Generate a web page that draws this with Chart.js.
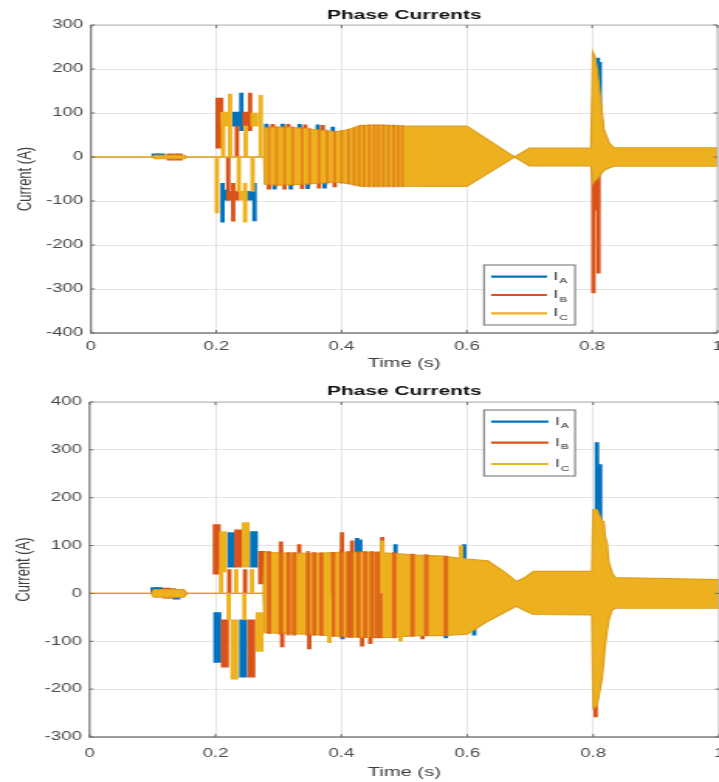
<!DOCTYPE html>
<html><head><meta charset="utf-8">
<script src="https://cdn.jsdelivr.net/npm/chart.js@4/dist/chart.umd.min.js"></script>
<style>
html,body{margin:0;padding:0;background:#fff;width:719px;height:782px;overflow:hidden}
.wrap{position:absolute;left:0;transform-origin:0 0;transform:scaleX(1.5496)}
canvas{display:block}
</style></head><body>
<div class="wrap" style="top:0;width:464px;height:380px"><canvas id="c1" width="464" height="380"></canvas></div>
<div class="wrap" style="top:380px;width:464px;height:402px"><canvas id="c2" width="464" height="402"></canvas></div>
<script>
// ---------- labels ----------
const chartTitle = 'Phase Currents';
const xTitle = 'Time (s)';
const yTitle = 'Current (A)';
const phaseNames = ['A', 'B', 'C'];
const xTicks = [0, 0.2, 0.4, 0.6, 0.8, 1];
const yTicksTop = [-400, -300, -200, -100, 0, 100, 200, 300];
const yTicksBottom = [-300, -200, -100, 0, 100, 200, 300, 400];

// ---------- top plot ----------
// main I_C envelope (time, upper, lower)
const t1BandT  = [0, 0.098, 0.102, 0.150, 0.153, 0.200, 0.276, 0.277, 0.300, 0.330, 0.360, 0.390, 0.410, 0.430, 0.470, 0.500, 0.550, 0.600, 0.676, 0.700, 0.798, 0.801, 0.804, 0.808, 0.813, 0.819, 0.827, 0.835, 1.000];
const t1BandHi = [0, 0, 4, 4, 0, 0, 0, 66, 68, 66, 62, 57, 62, 72, 72, 70, 70, 70, 0, 20, 20, 239, 230, 200, 135, 62, 32, 21, 21];
const t1BandLo = [0, 0, -4, -4, 0, 0, 0, -62, -64, -62, -60, -57, -60, -66, -66, -66, -67, -67, 0, -20, -20, -60, -55, -50, -40, -30, -25, -21, -21];
// visible segments of each phase (time, low, high)
const t1AWideT  = [0.215, 0.232, 0.254, 0.103, 0.112];
const t1AWideLo = [-98, 70, -98, 0, 0];
const t1AWideHi = [-75, 102, -78, 7, 7];
const t1AThinT  = [0.210, 0.240, 0.261, 0.280, 0.306, 0.333, 0.362, 0.386, 0.293, 0.319, 0.346, 0.373, 0.809, 0.812];
const t1AThinLo = [-148, 60, -145, 56, 56, 56, 56, 54, -73, -73, -72, -71, 0, 0];
const t1AThinHi = [-60, 145, -60, 75, 75, 74, 73, 68, -56, -56, -56, -55, 225, 215];
const t1BWideT  = [0.205, 0.222, 0.231, 0.248, 0.127, 0.140, 0.806];
const t1BWideLo = [20, -98, -98, 70, -7, -7, -120];
const t1BWideHi = [134, -78, -78, 102, 7, 7, 0];
const t1BThinT  = [0.227, 0.254, 0.290, 0.315, 0.342, 0.370, 0.284, 0.309, 0.337, 0.364, 0.389, 0.802, 0.810, 0.233, 0.219];
const t1BThinLo = [-146, 60, 56, 56, 56, 56, -73, -73, -72, -71, -68, -309, -264, 0, -75];
const t1BThinHi = [-60, 145, 74, 74, 73, 72, -56, -56, -56, -55, -55, 0, 0, 70, 0];
const t1CWideT  = [0.213, 0.243, 0.261];
const t1CWideLo = [70, -98, 70];
const t1CWideHi = [102, -78, 100];
const t1CThinT  = [0.201, 0.222, 0.246, 0.271, 0.236, 0.247, 0.211, 0.258];
const t1CThinLo = [-127, 0, -148, 0, -78, 0, 0, -78];
const t1CThinHi = [0, 143, -60, 140, 0, 70, 70, 0];
const t1StripeT  = [0.284, 0.296, 0.309, 0.322, 0.337, 0.349, 0.364, 0.377, 0.389, 0.400, 0.411, 0.420, 0.428, 0.436, 0.444, 0.452, 0.459, 0.467, 0.475, 0.483, 0.490, 0.497];
const t1StripeHi = [70, 71, 71, 69, 68, 66, 64, 62, 59, 60, 63, 66, 70, 72, 74, 74, 74, 74, 73, 73, 72, 72];
const t1StripeLo = [-66, -67, -67, -66, -65, -64, -63, -62, -60, -60, -62, -64, -66, -68, -69, -69, -69, -69, -69, -69, -68, -68];

// ---------- bottom plot ----------
const t2BandT  = [0, 0.098, 0.102, 0.150, 0.155, 0.200, 0.276, 0.278, 0.320, 0.360, 0.400, 0.440, 0.480, 0.520, 0.560, 0.600, 0.633, 0.659, 0.678, 0.690, 0.705, 0.798, 0.800, 0.806, 0.811, 0.814, 0.817, 0.819, 0.822, 0.825, 0.830, 0.835, 1.000];
const t2BandHi = [0, 0, 8, 8, 0, 0, 0, 86, 84, 84, 86, 86, 84, 80, 78, 72, 68, 45, 25, 32, 46, 46, 175, 175, 160, 152, 150, 120, 106, 65, 44, 33, 29];
const t2BandLo = [0, 0, -8, -8, 0, 0, 0, -82, -84, -86, -90, -92, -92, -88, -88, -85, -58, -40, -27, -35, -44, -45, -240, -235, -200, -179, -140, -110, -80, -55, -35, -31, -31];
const t2AWideT  = [0.203, 0.225, 0.244, 0.261, 0.103, 0.110, 0.138];
const t2AWideLo = [-144, 55, -175, 55, 0, 0, -12];
const t2AWideHi = [-40, 127, -55, 129, 12, 12, 0];
const t2AThinT  = [0.425, 0.430, 0.486, 0.595, 0.402, 0.566, 0.611, 0.806, 0.811];
const t2AThinLo = [0, 0, 0, 0, -95, -93, -87, 0, 0];
const t2AThinHi = [115, 112, 102, 102, 0, 0, 0, 315, 269];
const t2BWideT  = [0.202, 0.215, 0.236, 0.257, 0.274, 0.122, 0.131];
const t2BWideLo = [40, -154, 55, -175, 20, -10, -10];
const t2BWideHi = [144, -55, 133, -55, 88, 11, 10];
const t2BThinT  = [0.304, 0.306, 0.333, 0.349, 0.401, 0.417, 0.433, 0.446, 0.465, 0.529, 0.804, 0.222, 0.247];
const t2BThinLo = [0, -112, 0, -116, 0, 0, -110, -105, 0, -95, -258, 0, 0];
const t2BThinHi = [108, 0, 102, 0, 127, 110, 0, 0, 117, 0, 0, 50, 50];
const t2CWideT  = [0.212, 0.230, 0.248, 0.270];
const t2CWideLo = [45, -179, 55, -121];
const t2CWideHi = [129, -55, 148, -40];
const t2CThinT  = [0.381, 0.465, 0.494, 0.590, 0.209, 0.233, 0.258, 0.221, 0.246];
const t2CThinLo = [-103, 0, -100, 0, 0, 0, 0, -55, -55];
const t2CThinHi = [0, 110, 0, 100, 50, 50, 50, 0, 0];
const t2StripeT  = [0.285, 0.304, 0.316, 0.325, 0.347, 0.357, 0.368, 0.387, 0.400, 0.411, 0.416, 0.427, 0.438, 0.448, 0.456, 0.462, 0.484, 0.513, 0.535, 0.566];
const t2StripeHi = [88, 90, 86, 86, 88, 86, 85, 86, 90, 88, 88, 88, 88, 88, 87, 87, 86, 82, 81, 78];
const t2StripeLo = [-84, -86, -87, -88, -88, -88, -88, -90, -92, -92, -92, -92, -92, -93, -93, -93, -93, -90, -88, -88];

// ---------- styling ----------
const COLORS = ['#0072BD', '#D95319', '#EDB120'];
const FONT = '"Liberation Sans", Arial, Helvetica, sans-serif';

function bars(t, lo, hi) { return t.map((x, i) => ({x: x, y: [lo[i], hi[i]]})); }
function pts(t, v) { return t.map((x, i) => ({x: x, y: v[i]})); }

const boxPlugin = {
  id: 'matlabBox',
  afterDatasetsDraw(chart) {
    const {ctx, chartArea: a, scales} = chart;
    ctx.save();
    ctx.strokeStyle = '#b3b3b3'; ctx.lineWidth = 1;
    ctx.beginPath();
    ctx.moveTo(a.left, a.top); ctx.lineTo(a.right, a.top); ctx.lineTo(a.right, a.bottom);
    ctx.stroke();
    ctx.strokeStyle = '#808080'; ctx.lineWidth = 1.3;
    ctx.beginPath();
    ctx.moveTo(a.left, a.top); ctx.lineTo(a.left, a.bottom); ctx.lineTo(a.right, a.bottom);
    ctx.stroke();
    ctx.strokeStyle = '#6a6a6a'; ctx.lineWidth = 1;
    ctx.beginPath();
    scales.x.ticks.forEach(t => {
      const x = scales.x.getPixelForValue(t.value);
      ctx.moveTo(x, a.bottom); ctx.lineTo(x, a.bottom - 3);
      ctx.moveTo(x, a.top); ctx.lineTo(x, a.top + 3);
    });
    scales.y.ticks.forEach(t => {
      const y = scales.y.getPixelForValue(t.value);
      ctx.moveTo(a.left, y); ctx.lineTo(a.left + 2.5, y);
      ctx.moveTo(a.right, y); ctx.lineTo(a.right - 2.5, y);
    });
    ctx.stroke();
    ctx.restore();
  }
};

const legendPlugin = {
  id: 'phaseLegend',
  afterDraw(chart, args, o) {
    const ctx = chart.ctx;
    ctx.save();
    ctx.fillStyle = '#fff';
    ctx.fillRect(o.x, o.y, o.w, o.h);
    ctx.strokeStyle = '#6e6e6e'; ctx.lineWidth = 1;
    ctx.strokeRect(o.x, o.y, o.w, o.h);
    phaseNames.forEach((p, i) => {
      const y = o.rows[i];
      ctx.strokeStyle = COLORS[i]; ctx.lineWidth = 2.2;
      ctx.beginPath(); ctx.moveTo(o.lx0, y); ctx.lineTo(o.lx1, y); ctx.stroke();
      ctx.fillStyle = '#262626';
      ctx.textBaseline = 'alphabetic'; ctx.textAlign = 'left';
      ctx.font = '10.5px ' + FONT;
      ctx.fillText('I', o.tx, y + 3);
      const w = ctx.measureText('I').width;
      ctx.font = '7.5px ' + FONT;
      ctx.fillText(p, o.tx + w + 0.8, y + 6.5);
    });
    ctx.restore();
  }
};

function build(id, d, L) {
  const barDs = (data, color, thick, order) => ({
    type: 'bar', data: data, backgroundColor: color, borderWidth: 0,
    barThickness: thick, grouped: false, order: order
  });
  return new Chart(document.getElementById(id), {
    type: 'bar',
    data: { datasets: [
      barDs(bars(d.cWT, d.cWL, d.cWH), COLORS[2], 4.5, 1),
      barDs(bars(d.cTT, d.cTL, d.cTH), COLORS[2], 2.2, 1),
      barDs(bars(d.sT, d.sL, d.sH), L.stripeColor, L.stripeThick, 2),
      { type: 'line', data: pts(d.bT, d.bL), borderColor: L.bandEdge, borderWidth: 1.2,
        pointRadius: 0, fill: false, order: 3, tension: 0 },
      { type: 'line', data: pts(d.bT, d.bH), borderColor: L.bandEdge, borderWidth: 1.2,
        pointRadius: 0, fill: '-1', backgroundColor: COLORS[2], order: 3, tension: 0 },
      barDs(bars(d.bWT, d.bWL, d.bWH), COLORS[1], 4.5, 4),
      barDs(bars(d.bTT, d.bTL, d.bTH), COLORS[1], 2.2, 4),
      barDs(bars(d.aWT, d.aWL, d.aWH), COLORS[0], 4.5, 5),
      barDs(bars(d.aTT, d.aTL, d.aTH), COLORS[0], 2.2, 5)
    ]},
    plugins: [boxPlugin, legendPlugin],
    options: {
      responsive: false, animation: false, events: [],
      layout: { padding: { left: 0, right: L.padRight, top: 0, bottom: 0 } },
      plugins: {
        legend: { display: false }, tooltip: { enabled: false },
        title: { display: true, text: chartTitle, fullSize: false, color: '#111',
          font: { family: FONT, size: 13.5, weight: 'bold' },
          padding: { top: L.titleTop, bottom: L.titleBottom } },
        phaseLegend: L.legend
      },
      scales: {
        x: {
          type: 'linear', min: xTicks[0], max: xTicks[xTicks.length - 1], offset: false,
          afterBuildTicks: s => { s.ticks = xTicks.map(v => ({ value: v })); },
          afterFit: s => { s.height = L.xHeight; s.paddingLeft = 0; s.paddingRight = 0; },
          grid: { color: '#e4e4e4', lineWidth: 1, drawTicks: false, offset: false },
          border: { display: false },
          ticks: { padding: L.xTickPad, color: '#4a4a4a', font: { family: FONT, size: 12 },
            maxRotation: 0, autoSkip: false, callback: v => String(v) },
          title: { display: true, text: xTitle, color: '#3c3c3c', font: { family: FONT, size: 13 },
            padding: { top: 0, bottom: L.xTitleBottom } }
        },
        y: {
          type: 'linear', min: L.yTicks[0], max: L.yTicks[L.yTicks.length - 1],
          afterBuildTicks: s => { s.ticks = L.yTicks.map(v => ({ value: v })); },
          afterFit: s => { s.width = L.yWidth; s.paddingTop = 0; s.paddingBottom = 0; },
          grid: { color: '#e4e4e4', lineWidth: 1, drawTicks: false },
          border: { display: false },
          ticks: { padding: 5, color: '#4a4a4a', font: { family: FONT, size: 12 },
            callback: v => String(v) },
          title: { display: true, text: yTitle, color: '#3c3c3c', font: { family: FONT, size: 13 },
            padding: { top: L.yTitlePad, bottom: 0 } }
        }
      }
    }
  });
}

build('c1', {
  bT: t1BandT, bH: t1BandHi, bL: t1BandLo,
  aWT: t1AWideT, aWL: t1AWideLo, aWH: t1AWideHi, aTT: t1AThinT, aTL: t1AThinLo, aTH: t1AThinHi,
  bWT: t1BWideT, bWL: t1BWideLo, bWH: t1BWideHi, bTT: t1BThinT, bTL: t1BThinLo, bTH: t1BThinHi,
  cWT: t1CWideT, cWL: t1CWideLo, cWH: t1CWideHi, cTT: t1CThinT, cTL: t1CThinLo, cTH: t1CThinHi,
  sT: t1StripeT, sH: t1StripeHi, sL: t1StripeLo
}, {
  yTicks: yTicksTop, yWidth: 58.7, padRight: 1.0, titleTop: 6.9, titleBottom: 1.9,
  xHeight: 47, xTickPad: 6, xTitleBottom: 8.7, yTitlePad: 8.3,
  stripeColor: 'rgba(217,83,25,0.42)', stripeThick: 1.3, bandEdge: '#DE9E1C',
  legend: { x: 312.3, y: 265, w: 58.8, h: 60, rows: [276.7, 295, 313.3], lx0: 316.9, lx1: 353.0, tx: 357.2 }
});

build('c2', {
  bT: t2BandT, bH: t2BandHi, bL: t2BandLo,
  aWT: t2AWideT, aWL: t2AWideLo, aWH: t2AWideHi, aTT: t2AThinT, aTL: t2AThinLo, aTH: t2AThinHi,
  bWT: t2BWideT, bWL: t2BWideLo, bWH: t2BWideHi, bTT: t2BThinT, bTL: t2BThinLo, bTH: t2BThinHi,
  cWT: t2CWideT, cWL: t2CWideLo, cWH: t2CWideHi, cTT: t2CThinT, cTL: t2CThinLo, cTH: t2CThinHi,
  sT: t2StripeT, sH: t2StripeHi, sL: t2StripeLo
}, {
  yTicks: yTicksBottom, yWidth: 57.8, padRight: 0, titleTop: 2.9, titleBottom: 2.9,
  xHeight: 45, xTickPad: 9, xTitleBottom: 1.7, yTitlePad: 7.7,
  stripeColor: 'rgba(217,83,25,0.75)', stripeThick: 2.2, bandEdge: '#DE9E1C',
  legend: { x: 312.3, y: 30, w: 58.8, h: 66, rows: [41.7, 62.7, 84], lx0: 316.9, lx1: 353.9, tx: 358.2 }
});
</script>
</body></html>
